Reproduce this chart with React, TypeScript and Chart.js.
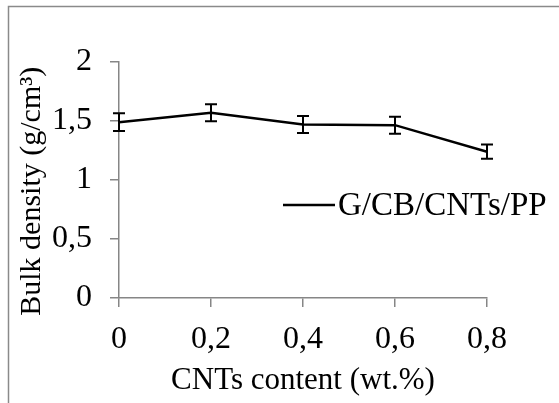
import React, { useEffect, useRef } from "react";
import { Chart, registerables } from "chart.js";

Chart.register(...registerables);

const categories = ["0", "0,2", "0,4", "0,6", "0,8"];
const densityValues = [1.49, 1.57, 1.47, 1.465, 1.24];
const densityErrors = [0.075, 0.073, 0.072, 0.072, 0.06];
const seriesLabel = "G/CB/CNTs/PP";
const xTitle = "CNTs content (wt.%)";
const yTitle = "Bulk density (g/cm³)";

const FONT = "'Liberation Serif', 'Times New Roman', serif";
const AXIS_GRAY = "#868686";

const errorBarPlugin = {
  id: "errorBars",
  afterDatasetsDraw(chart: any) {
    const { ctx, scales } = chart;
    const xs = scales.x;
    const ys = scales.y;
    ctx.save();
    ctx.strokeStyle = "#000";
    ctx.lineWidth = 2;
    densityValues.forEach((v, i) => {
      const x = xs.getPixelForValue(i);
      const yt = ys.getPixelForValue(v + densityErrors[i]);
      const yb = ys.getPixelForValue(v - densityErrors[i]);
      ctx.beginPath();
      ctx.moveTo(x, yt);
      ctx.lineTo(x, yb);
      ctx.moveTo(x - 6, yt);
      ctx.lineTo(x + 6, yt);
      ctx.moveTo(x - 6, yb);
      ctx.lineTo(x + 6, yb);
      ctx.stroke();
    });
    ctx.restore();
  },
};

const framePlugin = {
  id: "frame",
  beforeDraw(chart: any) {
    const { ctx, width, height } = chart;
    ctx.save();
    ctx.fillStyle = "#fff";
    ctx.fillRect(0, 0, width, height);
    ctx.strokeStyle = "#8a8a8a";
    ctx.lineWidth = 1.5;
    ctx.beginPath();
    ctx.moveTo(8.5, height);
    ctx.lineTo(8.5, 6.5);
    ctx.lineTo(width, 6.5);
    ctx.stroke();
    ctx.restore();
  },
};

const legendPlugin = {
  id: "innerLegend",
  afterDraw(chart: any) {
    const { ctx } = chart;
    ctx.save();
    ctx.strokeStyle = "#000";
    ctx.lineWidth = 2.5;
    ctx.beginPath();
    ctx.moveTo(283, 205);
    ctx.lineTo(335, 205);
    ctx.stroke();
    ctx.fillStyle = "#000";
    ctx.font = `33px ${FONT}`;
    ctx.textBaseline = "middle";
    ctx.textAlign = "left";
    ctx.fillText(seriesLabel, 338, 206);
    ctx.restore();
  },
};

export default function App() {
  const ref = useRef<HTMLCanvasElement>(null);

  useEffect(() => {
    if (!ref.current) return;
    const chart = new Chart(ref.current, {
      type: "line",
      data: {
        labels: categories,
        datasets: [
          {
            label: seriesLabel,
            data: densityValues,
            borderColor: "#000",
            backgroundColor: "#000",
            borderWidth: 2.5,
            pointRadius: 0,
            tension: 0,
          },
        ],
      },
      options: {
        animation: false,
        responsive: false,
        devicePixelRatio: 1,
        layout: { padding: { left: 14, top: 62, right: 72, bottom: 4 } },
        plugins: {
          legend: { display: false },
          tooltip: { enabled: false },
        },
        scales: {
          x: {
            type: "category",
            offset: false,
            afterFit: (s: any) => {
              s.height = 101;
            },
            grid: {
              drawOnChartArea: false,
              drawTicks: true,
              tickLength: 9,
              color: AXIS_GRAY,
              lineWidth: 1.5,
            },
            border: { color: AXIS_GRAY, width: 1.5 },
            ticks: {
              color: "#000",
              padding: 13,
              maxRotation: 0,
              font: { family: FONT, size: 32 },
            },
            title: {
              display: true,
              text: xTitle,
              color: "#000",
              padding: { top: 0, bottom: 0 },
              font: { family: FONT, size: 31 },
            },
          },
          y: {
            min: 0,
            max: 2,
            afterFit: (s: any) => {
              s.width = 105;
            },
            grid: {
              drawOnChartArea: false,
              drawTicks: true,
              tickLength: 9,
              color: AXIS_GRAY,
              lineWidth: 1.5,
            },
            border: { color: AXIS_GRAY, width: 1.5 },
            ticks: {
              stepSize: 0.5,
              color: "#000",
              padding: 18,
              font: { family: FONT, size: 32 },
              callback: (v: any) => String(v).replace(".", ","),
            },
            title: {
              display: true,
              text: yTitle + "   ",
              color: "#000",
              padding: { top: 0, bottom: 0 },
              font: { family: FONT, size: 30 },
            },
          },
        },
      },
      plugins: [framePlugin, errorBarPlugin, legendPlugin],
    });
    return () => chart.destroy();
  }, []);

  return (
    <div style={{ position: "fixed", left: 0, top: 0, width: 559, height: 403, background: "#fff" }}>
      <canvas ref={ref} width={559} height={403} style={{ display: "block" }} />
    </div>
  );
}
